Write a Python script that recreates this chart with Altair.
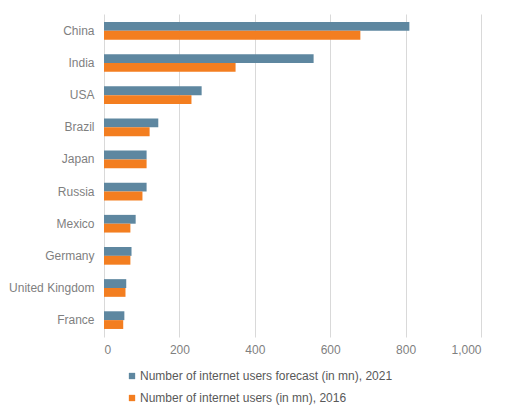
import altair as alt
import pandas as pd

countries = ["China", "India", "USA", "Brazil", "Japan", "Russia", "Mexico", "Germany", "United Kingdom", "France"]
users_2021 = [810, 556, 259, 144, 113, 113, 84, 73, 59, 54]
users_2016 = [680, 349, 232, 121, 113, 102, 70, 70, 57, 51]
s2021 = "Number of internet users forecast (in mn), 2021"
s2016 = "Number of internet users (in mn), 2016"
x_ticks = [0, 200, 400, 600, 800, 1000]

rows = []
for c, a, b in zip(countries, users_2021, users_2016):
    rows.append({"country": c, "series": s2021, "value": a})
    rows.append({"country": c, "series": s2016, "value": b})
df = pd.DataFrame(rows)

font = "Liberation Sans"

chart = alt.Chart(df).mark_bar().encode(
    y=alt.Y("country:N", sort=countries, title=None,
            scale=alt.Scale(paddingInner=0.45, paddingOuter=0.25),
            axis=alt.Axis(domain=False, ticks=False, labelPadding=10,
                          labelColor="#7F7F7F", labelFontSize=12, labelFont=font)),
    yOffset=alt.YOffset("series:N", sort=[s2021, s2016]),
    x=alt.X("value:Q", title=None,
            scale=alt.Scale(domain=[0, 1000], nice=False),
            axis=alt.Axis(values=x_ticks, format=",.0f", domain=False, ticks=False,
                          grid=True, gridColor="#D9D9D9", gridWidth=1,
                          labelColor="#7F7F7F", labelFontSize=12, labelFont=font,
                          labelPadding=7)),
    color=alt.Color("series:N", sort=[s2021, s2016],
                    scale=alt.Scale(domain=[s2021, s2016], range=["#5E87A0", "#F37E20"]),
                    legend=alt.Legend(title=None, orient="none", legendX=22, legendY=356,
                                      direction="vertical", symbolType="square",
                                      symbolSize=40, symbolStrokeWidth=0,
                                      labelFontSize=12, labelFont=font, labelLimit=0,
                                      labelColor="#595959", rowPadding=10,
                                      labelOffset=2)),
).properties(
    width=377, height=323,
    padding={"left": 96, "top": 6, "right": 23, "bottom": 69},
    autosize=alt.AutoSizeParams(type="none"),
).configure_view(stroke=None)

chart.save("out.html", embed_options={"renderer": "svg", "actions": False})
